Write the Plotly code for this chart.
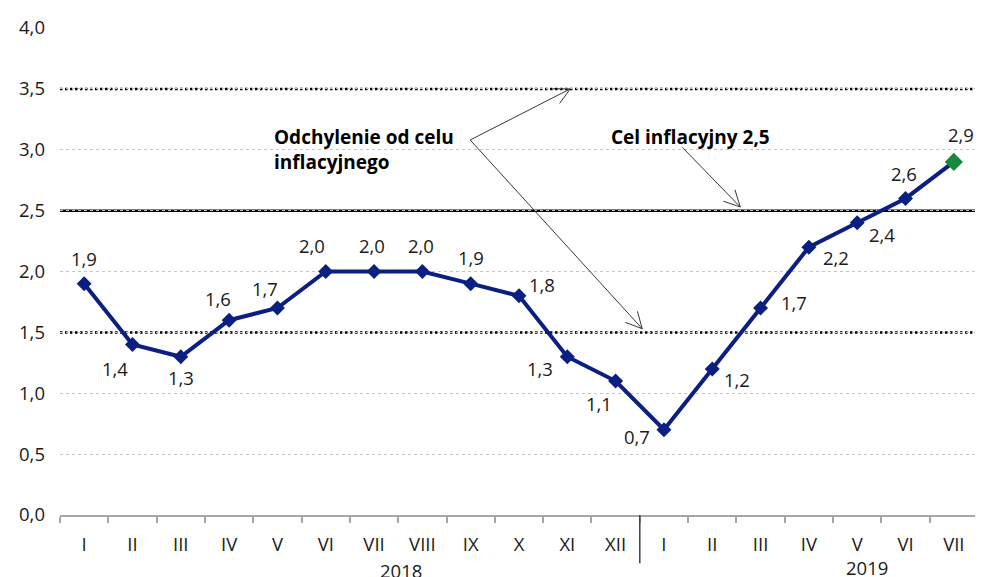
import math
import plotly.graph_objects as go

# ---- data ----
months = ["I", "II", "III", "IV", "V", "VI", "VII", "VIII", "IX", "X", "XI", "XII",
          "I", "II", "III", "IV", "V", "VI", "VII"]
cpi = [1.9, 1.4, 1.3, 1.6, 1.7, 2.0, 2.0, 2.0, 1.9, 1.8, 1.3, 1.1,
       0.7, 1.2, 1.7, 2.2, 2.4, 2.6, 2.9]
years = ["2018", "2019"]
target = 2.5
band_low = 1.5
band_high = 3.5
y_ticks = [0.0, 0.5, 1.0, 1.5, 2.0, 2.5, 3.0, 3.5, 4.0]

# ---- styling / layout ----
# page body has an 8px margin, so the figure is made 8px smaller
W, H = 975, 569
ML, MR, MT, MB = 52, 5, 20, 62
XR = (-0.5, len(months) - 0.5)
YR = (0, 4)
PXX = (W - ML - MR) / (XR[1] - XR[0])
PXY = (H - MT - MB) / (YR[1] - YR[0])

NAVY = "#0b1f82"
GREEN = "#17893f"
FONT = "Open Sans"
TXT = "#1a1a1a"
FS = 18.5

def fmt(v):
    return f"{v:.1f}".replace(".", ",")

x = list(range(len(months)))

# label offsets in pixels (dx, dy screen; dy positive = down)
offs = [(0, -25), (-17, 24), (0, 21), (-11, -22), (-12, -20), (-14, -26), (-2, -26),
        (-1, -26), (0, -26), (23, -11), (-27, 12), (-17, 22), (-27, 7), (25, 11),
        (33, -6), (27, 10), (25, 12), (-2, -25), (7, -27)]

fig = go.Figure()

fig.add_trace(go.Scatter(
    x=x, y=cpi, mode="lines",
    line=dict(color=NAVY, width=4), hoverinfo="skip", showlegend=False))
fig.add_trace(go.Scatter(
    x=x[:-1], y=cpi[:-1], mode="markers",
    marker=dict(symbol="diamond", size=11.5, color=NAVY),
    showlegend=False))
fig.add_trace(go.Scatter(
    x=[x[-1]], y=[cpi[-1]], mode="markers",
    marker=dict(symbol="diamond", size=14, color=GREEN),
    showlegend=False))

annotations = []
for xi, v, (dx, dy) in zip(x, cpi, offs):
    annotations.append(dict(x=xi, y=v, xref="x", yref="y", text=fmt(v),
                            showarrow=False, xshift=dx, yshift=-dy,
                            font=dict(family=FONT, size=FS, color=TXT)))

# year labels
annotations.append(dict(x=6.55, y=-0.113, xref="x", yref="paper", text=years[0],
                        showarrow=False, yanchor="middle",
                        font=dict(family=FONT, size=FS, color=TXT)))
annotations.append(dict(x=16.2, y=-0.107, xref="x", yref="paper", text=years[1],
                        showarrow=False, yanchor="middle",
                        font=dict(family=FONT, size=FS, color=TXT)))

# callout texts
annotations.append(dict(x=3.89, y=3.0, xref="x", yref="y",
                        text="<b>Odchylenie od celu<br>inflacyjnego</b>",
                        showarrow=False, xanchor="left", yanchor="middle", align="left",
                        font=dict(family=FONT, size=19, color="#000")))
annotations.append(dict(x=10.87, y=3.105, xref="x", yref="y",
                        text=f"<b>Cel inflacyjny {fmt(target)}</b>",
                        showarrow=False, xanchor="left", yanchor="middle",
                        font=dict(family=FONT, size=19, color="#000")))

shapes = []
# reference lines
for yv in (band_low, band_high):
    shapes.append(dict(type="line", xref="paper", yref="y", x0=0, x1=1, y0=yv, y1=yv,
                       line=dict(color="#000", width=2.5, dash="2.5px,2.5px"), layer="between"))
shapes.append(dict(type="line", xref="paper", yref="y", x0=0, x1=1, y0=target, y1=target,
                   line=dict(color="#000", width=2.5), layer="between"))
# year separator
shapes.append(dict(type="line", xref="x", yref="paper", x0=11.5, x1=11.5, y0=0, y1=-0.099,
                   line=dict(color="#404040", width=1.5)))

def arrow(x0, y0, x1, y1, head=18, ang=27):
    shapes.append(dict(type="line", xref="x", yref="y", x0=x0, y0=y0, x1=x1, y1=y1,
                       line=dict(color="#222", width=0.9)))
    dxp = (x1 - x0) * PXX
    dyp = (y1 - y0) * PXY
    L = math.hypot(dxp, dyp)
    ux, uy = -dxp / L, -dyp / L
    for s in (1, -1):
        a = math.radians(ang) * s
        vx = ux * math.cos(a) - uy * math.sin(a)
        vy = ux * math.sin(a) + uy * math.cos(a)
        shapes.append(dict(type="line", xref="x", yref="y", x0=x1, y0=y1,
                           x1=x1 + vx * head / PXX, y1=y1 + vy * head / PXY,
                           line=dict(color="#222", width=0.9)))

arrow(7.99, 3.08, 10.06, band_high)
arrow(7.99, 3.08, 11.55, 1.53)
arrow(12.38, 3.02, 13.58, 2.53)

fig.update_layout(
    width=W, height=H,
    margin=dict(l=ML, r=MR, t=MT, b=MB, autoexpand=False),
    paper_bgcolor="white", plot_bgcolor="white",
    showlegend=False,
    annotations=annotations, shapes=shapes,
    font=dict(family=FONT, size=FS, color=TXT),
)
fig.update_xaxes(
    range=list(XR), tickvals=x, ticktext=months, ticks="", showgrid=False,
    showline=True, linecolor="#a6a6a6", linewidth=1.5, zeroline=False,
    automargin=False, ticklabelstandoff=12,
    tickfont=dict(family=FONT, size=FS, color=TXT),
    minor=dict(tickvals=[i - 0.5 for i in range(len(months) + 1)], ticks="outside",
               ticklen=6, tickcolor="#a6a6a6", tickwidth=1.5, showgrid=False),
)
fig.update_yaxes(
    range=list(YR), tickvals=y_ticks, ticktext=[fmt(v) for v in y_ticks], ticks="",
    showgrid=True, gridcolor="#c4c4c4", gridwidth=1, griddash="dot",
    zeroline=False, showline=False, automargin=False, ticklabelstandoff=14,
    tickfont=dict(family=FONT, size=FS, color=TXT),
)

fig.write_html("out.html")
